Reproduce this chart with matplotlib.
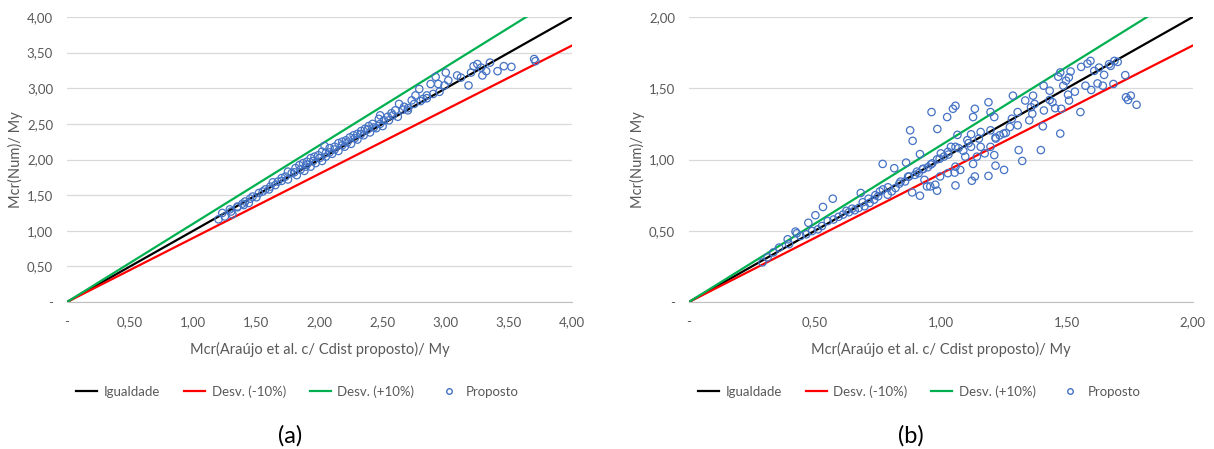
import matplotlib
matplotlib.use('Agg')
import matplotlib.pyplot as plt
from matplotlib.lines import Line2D
import numpy as np

plt.rcParams['font.family'] = ['Lato', 'DejaVu Sans']

grey_text = '#595959'
grid_col = '#d9d9d9'
blue = '#4472C4'

# reference lines
line_x_a = [0.0, 4.0]
line_x_b = [0.0, 2.0]
factor_eq = 1.0
factor_lo = 0.9
factor_hi = 1.1

# panel (a) points
xa = [1.20, 1.23, 1.29, 1.31, 1.35, 1.39, 1.41, 1.44, 1.47, 1.52, 1.57, 1.61,
      1.63, 1.67, 1.70, 1.73, 1.75, 1.78, 1.81, 1.84, 1.87, 1.90, 1.89, 1.93,
      1.96, 1.99, 2.02, 2.04, 2.05, 2.08, 2.12, 2.15, 2.18, 2.21, 2.24, 2.27,
      2.30, 2.33, 2.36, 2.39, 2.42, 2.47, 2.48, 2.51, 2.54, 2.57, 2.60, 2.63,
      2.67, 2.70, 2.73, 2.76, 2.79, 2.82, 2.85, 2.88, 2.92, 2.94, 2.99, 3.00,
      3.02, 3.09, 3.12, 3.18, 3.20, 3.22, 3.25, 3.28, 3.29, 3.32, 3.35, 3.41,
      3.46, 3.52, 3.70, 3.71,
      1.70, 1.75, 1.80, 1.82, 1.85, 1.88, 1.90, 1.93, 1.95, 1.97, 2.00, 2.02,
      2.05, 2.08, 2.10, 2.12, 2.15, 2.18, 2.20, 2.22, 2.25, 2.28, 2.30, 2.33,
      2.35, 2.38, 2.40, 2.43, 2.45, 2.48, 2.50, 2.55, 2.58, 2.62, 2.66, 2.70,
      2.75, 2.80, 2.85, 2.90, 2.95, 1.35, 1.45, 1.50, 1.55, 1.60, 1.65, 1.25,
      1.30, 1.40]
ya = [1.16, 1.25, 1.30, 1.23, 1.34, 1.38, 1.41, 1.39, 1.48, 1.53, 1.58, 1.62,
      1.68, 1.69, 1.74, 1.76, 1.83, 1.81, 1.88, 1.92, 1.95, 1.97, 1.90, 2.02,
      2.04, 2.06, 2.11, 2.19, 2.09, 2.16, 2.18, 2.23, 2.25, 2.27, 2.31, 2.34,
      2.36, 2.40, 2.43, 2.47, 2.50, 2.57, 2.62, 2.55, 2.60, 2.65, 2.69, 2.78,
      2.74, 2.69, 2.83, 2.90, 2.99, 2.85, 2.90, 3.06, 3.16, 3.06, 3.04, 3.22,
      3.11, 3.18, 3.15, 3.04, 3.22, 3.31, 3.34, 3.29, 3.18, 3.24, 3.36, 3.24,
      3.31, 3.30, 3.41, 3.38,
      1.70, 1.72, 1.82, 1.78, 1.86, 1.84, 1.93, 1.90, 1.98, 1.95, 2.02, 1.98,
      2.04, 2.10, 2.08, 2.14, 2.12, 2.20, 2.18, 2.24, 2.22, 2.30, 2.28, 2.36,
      2.34, 2.42, 2.38, 2.45, 2.44, 2.50, 2.47, 2.55, 2.62, 2.60, 2.70, 2.72,
      2.78, 2.82, 2.86, 2.92, 2.95, 1.33, 1.45, 1.47, 1.55, 1.58, 1.64, 1.20,
      1.27, 1.36]

# panel (b) points
xb = [0.963, 0.878, 0.888, 0.986, 1.025, 1.048, 1.058, 1.066, 1.128, 1.135,
      1.189, 1.197, 1.212, 1.286, 1.366, 1.408, 1.554, 1.474, 1.397, 1.309,
      1.323, 1.405, 1.212, 1.217, 1.251, 1.189, 1.123, 1.135, 1.058, 0.985,
      0.945, 0.917, 0.886, 0.769, 0.862, 0.917, 1.128, 1.143, 0.571, 0.532,
      0.502, 0.474, 0.423, 0.392, 0.682, 0.815, 1.732, 1.735, 1.754, 1.743,
      1.777, 1.689, 1.702, 1.674, 1.685, 1.594, 1.582, 1.557, 1.628, 1.609,
      1.648, 1.622, 1.643, 1.597, 1.515, 1.474, 1.466, 1.508, 1.486, 1.532,
      1.505, 1.509, 1.478, 1.432, 1.432, 1.409, 1.358, 1.372, 1.335, 1.363,
      1.351, 1.305, 1.282, 1.305, 1.274, 1.258, 1.234, 1.218, 1.197, 1.158,
      1.151, 1.120, 1.105, 1.120, 1.158, 1.089, 1.058, 1.040, 1.028, 1.012,
      1.000, 0.985, 0.966, 0.948, 0.928, 0.912, 0.897, 0.874, 0.858, 0.835,
      0.820, 0.805, 0.789, 0.758, 0.751, 0.735, 0.717, 0.697, 0.674, 0.658,
      0.635, 0.612, 0.594, 0.574, 0.551, 0.528, 0.512, 0.489, 0.466, 0.443,
      0.428, 0.397, 0.358, 0.335, 0.312, 0.292, 1.077, 1.055, 1.028, 0.997,
      0.978, 0.958, 0.935, 1.058, 1.097, 1.174, 1.197, 1.217, 1.249, 1.443,
      1.454, 1.497, 1.574, 1.668, 0.625, 0.648, 0.690, 0.713, 0.740, 0.770,
      0.790, 0.840, 0.870, 0.905, 0.930, 0.960, 0.995, 1.030, 1.070, 1.110]
yb = [1.333, 1.205, 1.131, 1.214, 1.298, 1.356, 1.377, 1.173, 1.298, 1.356,
      1.402, 1.333, 1.298, 1.448, 1.448, 1.518, 1.333, 1.182, 1.066, 1.066,
      0.990, 1.233, 1.031, 0.957, 0.927, 0.885, 0.851, 0.881, 0.818, 0.781,
      0.811, 0.746, 0.769, 0.969, 0.978, 1.038, 0.969, 1.020, 0.725, 0.667,
      0.609, 0.556, 0.494, 0.440, 0.765, 0.939, 1.592, 1.437, 1.448, 1.418,
      1.384, 1.692, 1.685, 1.657, 1.530, 1.692, 1.673, 1.650, 1.645, 1.622,
      1.594, 1.534, 1.518, 1.488, 1.618, 1.611, 1.581, 1.576, 1.518, 1.476,
      1.455, 1.414, 1.356, 1.483, 1.418, 1.344, 1.367, 1.390, 1.414, 1.321,
      1.275, 1.333, 1.286, 1.240, 1.228, 1.187, 1.170, 1.147, 1.205, 1.193,
      1.147, 1.177, 1.136, 1.089, 1.089, 1.061, 1.089, 1.089, 1.054, 1.020,
      1.043, 1.001, 0.973, 0.946, 0.932, 0.904, 0.892, 0.881, 0.846, 0.830,
      0.800, 0.776, 0.753, 0.776, 0.742, 0.718, 0.695, 0.672, 0.660, 0.644,
      0.630, 0.614, 0.598, 0.579, 0.568, 0.533, 0.510, 0.498, 0.475, 0.463,
      0.482, 0.406, 0.382, 0.348, 0.313, 0.278, 0.927, 0.908, 0.904, 0.881,
      0.823, 0.811, 0.857, 0.950, 1.020, 1.043, 1.089, 1.154, 1.182, 1.402,
      1.360, 1.553, 1.518, 1.669, 0.640, 0.655, 0.700, 0.725, 0.750, 0.790,
      0.805, 0.845, 0.880, 0.915, 0.935, 0.965, 1.005, 1.035, 1.080, 1.115]

labels = ['Igualdade', 'Desv. (-10%)', 'Desv. (+10%)', 'Proposto']
colors = ['black', '#ff0000', '#00b050']


def fmt(v, pos):
    if abs(v) < 1e-9:
        return '-'
    return '{:.2f}'.format(v).replace('.', ',')


def draw(ax, lx, xs, ys, lim, step):
    lx = np.array(lx)
    for f, c in zip([factor_eq, factor_lo, factor_hi], colors):
        ax.plot(lx, f * lx, color=c, linewidth=1.6, zorder=3)
    ax.scatter(xs, ys, s=28, facecolors='none', edgecolors=blue,
               linewidths=0.9, zorder=4)
    ax.set_xlim(0, lim)
    ax.set_ylim(0, lim)
    ticks = np.arange(0, lim + 1e-9, step)
    ax.set_xticks(ticks)
    ax.set_yticks(ticks)
    ax.xaxis.set_major_formatter(plt.FuncFormatter(fmt))
    ax.yaxis.set_major_formatter(plt.FuncFormatter(fmt))
    ax.grid(axis='y', color=grid_col, linewidth=0.9)
    ax.set_axisbelow(True)
    for s in ['top', 'right', 'left']:
        ax.spines[s].set_visible(False)
    ax.spines['bottom'].set_color('#bfbfbf')
    ax.tick_params(length=0, colors=grey_text, labelsize=9.5, pad=10)
    ax.set_xlabel('Mcr(Araújo et al. c/ Cdist proposto)/ My', color=grey_text,
                  fontsize=10.5, labelpad=10)
    ax.set_ylabel('Mcr(Num)/ My', color=grey_text, fontsize=10.5, labelpad=3)


fig = plt.figure(figsize=(12.14, 4.49), dpi=100)
ax1 = fig.add_axes([0.0552, 0.3274, 0.416, 0.6347])
ax2 = fig.add_axes([0.5675, 0.3274, 0.415, 0.6347])
draw(ax1, line_x_a, xa, ya, 4.0, 0.5)
draw(ax2, line_x_b, xb, yb, 2.0, 0.5)

handles = [Line2D([], [], color=c, linewidth=1.6) for c in colors]
handles.append(Line2D([], [], linestyle='none', marker='o', markersize=4,
                      markerfacecolor='none', markeredgecolor=blue))
for xc in [0.245, 0.757]:
    leg = fig.legend(handles, labels, loc='center', bbox_to_anchor=(xc, 0.128),
                     ncol=4, frameon=False, fontsize=9.5, handlelength=1.6,
                     columnspacing=1.8, handletextpad=0.5)
    for t in leg.get_texts():
        t.set_color(grey_text)

fig.text(0.239, 0.03, '(a)', ha='center', va='center', fontsize=17)
fig.text(0.75, 0.03, '(b)', ha='center', va='center', fontsize=17)

fig.savefig('out.png', dpi=100)
